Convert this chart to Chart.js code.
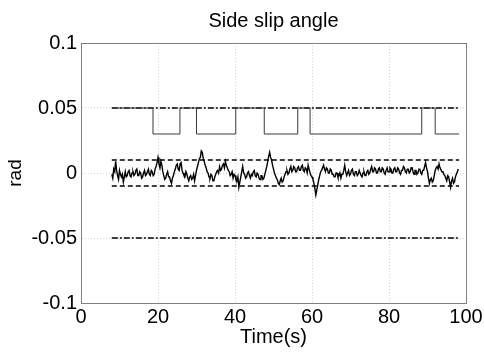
<!DOCTYPE html>
<html>
<head>
<meta charset="utf-8">
<script src="https://cdn.jsdelivr.net/npm/chart.js@4.4.1/dist/chart.umd.min.js"></script>
<style>
  html, body { margin: 0; padding: 0; background: #fff; }
  #wrap { width: 485px; height: 352px; }
</style>
</head>
<body>
<div id="wrap"><canvas id="slip"></canvas></div>
<script>
// side slip estimate, sampled every 0.25 s from t = 8 s (values in mrad)
const slipStart = 8;
const slipStep = 0.25;
const slipMrad = [
  -1, -4, 3, 1, 9, 2, -2, -5, 2, -1, -3, -1, -7, -3, 1, -3, -2, 1, 2, -2,
  -3, 0, 1, -2, -1, 2, 3, -2, -2, 1, 0, -4, -3, 0, 2, -2, -1, 1, 3, -1,
  -2, 2, 1, -2, -1, 3, 5, 8, 12, 7, 4, 9, 6, 1, -2, -5, -4, -1, 1, -3,
  -3, -6, -8, -4, -2, 1, 3, 6, 7, 3, 2, 7, 8, 2, 0, -2, -3, 1, -1, -4,
  -6, -3, -2, -5, -4, -1, -6, -2, 2, 5, 8, 11, 12, 17, 16, 11, 9, 6, 4, 1,
  0, -3, -4, -1, -2, -6, -6, -3, -1, 1, 2, 0, 5, 2, 3, 6, 7, 4, 9, 6,
  4, 2, 1, -2, -1, 1, -4, -1, -2, -5, -6, -3, -11, -7, -3, 1, 5, 0, -1, -4,
  -3, 0, 1, -2, -4, -1, -2, 1, 2, -2, -3, 0, -1, -4, -5, -2, -2, -5, -4, -1,
  2, 5, 9, 13, 16, 12, 10, 6, 3, 0, -2, -4, -5, -8, -9, -6, -4, -7, -6, -3,
  -1, 1, 2, -1, 0, 3, 5, 1, 2, 5, 4, 1, 1, 4, 5, 2, 2, 5, 6, 2,
  1, 4, 3, 0, 6, 3, 0, -2, -3, -5, -8, -12, -17, -13, -9, -5, -2, 1, 2, 4,
  6, 3, 1, 4, 3, 0, 0, 3, 2, -1, -1, -3, -3, 0, 0, -3, -2, 0, -4, -1,
  -1, 2, 6, 1, -2, 0, 2, -2, -1, 2, 3, -1, -2, 1, 1, -2, -1, 2, 0, -2,
  -3, 0, 1, -2, -2, 1, 2, -1, 0, 3, 5, 1, 1, 4, 3, 0, 0, 3, 4, 1,
  1, 4, 3, 0, -1, 2, 4, 1, 1, 4, 3, 0, 0, 3, 4, 1, 1, 4, 3, 0,
  -1, 2, 2, 5, 4, 1, 0, 3, 3, 0, 1, 4, 4, 1, -1, 2, 2, -1, 0, 3,
  3, 0, -1, 2, 2, 5, 8, 4, 1, -4, -8, -5, -4, -7, -6, -2, 2, 4, 5, 3,
  7, 4, 4, 1, 1, -1, -2, -4, -6, -2, -3, -7, -11, -6, -4, -8, -7, -3, -1, 1,
  3
];

// switching signal: level holds from each time until the next one
const switchTimes = [8, 18.7, 25.7, 30.0, 40.2, 47.6, 56.3, 59.5, 88.5, 92.0, 98.2];
const switchLevels = [0.05, 0.03, 0.05, 0.03, 0.05, 0.03, 0.05, 0.03, 0.05, 0.03, 0.03];

// bound lines
const boundSpan = [8, 98.2];
const outerBound = 0.05;
const innerBound = 0.01;

const xTicks = [0, 20, 40, 60, 80, 100];
const yTicks = [-0.1, -0.05, 0, 0.05, 0.1];

Chart.defaults.font.family = "'Liberation Sans', Arial, sans-serif";
Chart.defaults.color = "#000";

const slipPoints = slipMrad.map((v, i) => ({ x: slipStart + i * slipStep, y: v / 1000 }));
const switchPoints = switchTimes.map((t, i) => ({ x: t, y: switchLevels[i] }));
const hline = y => boundSpan.map(x => ({ x: x, y: y }));

const boxPlugin = {
  id: "box",
  afterDraw(chart) {
    const a = chart.chartArea;
    const c = chart.ctx;
    c.save();
    c.strokeStyle = "#808080";
    c.lineWidth = 1;
    c.strokeRect(a.left + 0.5, a.top + 0.5, a.right - a.left, a.bottom - a.top);
    c.restore();
  }
};

const lineSet = (data, extra) => Object.assign({
  data: data,
  borderColor: "#000",
  borderWidth: 1,
  pointRadius: 0,
  fill: false,
  tension: 0
}, extra);

const ctx = document.getElementById("slip");

const slipChart = new Chart(ctx, {
  type: "line",
  data: {
    datasets: [
      lineSet(slipPoints, { borderWidth: 1.4 }),
      // "before" keeps each level until the next switch time
      lineSet(switchPoints, { borderColor: "#3a3a3a", stepped: "before" }),
      lineSet(hline(outerBound), { borderDash: [6, 2, 2, 2], borderWidth: 1.3 }),
      lineSet(hline(-outerBound), { borderDash: [6, 2, 2, 2], borderWidth: 1.3 }),
      lineSet(hline(innerBound), { borderDash: [5, 3], borderWidth: 1.3 }),
      lineSet(hline(-innerBound), { borderDash: [5, 3], borderWidth: 1.3 })
    ]
  },
  options: {
    responsive: true,
    maintainAspectRatio: false,
    animation: false,
    layout: {
      padding: { left: 0, right: 19, top: 0, bottom: 0 }
    },
    plugins: {
      legend: { display: false },
      tooltip: { enabled: false },
      title: { display: false }
    },
    scales: {
      x: {
        type: "linear",
        min: 0,
        max: 100,
        afterBuildTicks: s => { s.ticks = xTicks.map(v => ({ value: v })); },
        afterFit: s => { s.height = 49; },
        ticks: {
          color: "#000",
          font: { size: 20 },
          padding: 2,
          maxRotation: 0
        },
        grid: {
          color: "#d2d2d2",
          drawTicks: false
        },
        border: { color: "#808080", dash: [1, 2] },
        title: {
          display: true,
          text: "Time(s)",
          color: "#000",
          font: { size: 20 },
          padding: { top: -4, bottom: 3 }
        }
      },
      // top axis only carries the plot title, centred over the plot area
      top: {
        type: "linear",
        position: "top",
        min: 0,
        max: 100,
        afterFit: s => { s.height = 43; },
        ticks: { display: false },
        grid: { display: false, drawTicks: false },
        border: { display: false },
        title: {
          display: true,
          text: "Side slip angle",
          color: "#000",
          font: { size: 20 },
          padding: { top: 9, bottom: 0 }
        }
      },
      y: {
        type: "linear",
        min: -0.1,
        max: 0.1,
        afterBuildTicks: s => { s.ticks = yTicks.map(v => ({ value: v })); },
        afterFit: s => { s.width = 81; },
        ticks: {
          color: "#000",
          font: { size: 20 },
          padding: 4,
          callback: v => String(+v.toFixed(2))
        },
        grid: {
          color: "#d2d2d2",
          drawTicks: false
        },
        border: { color: "#808080", dash: [1, 2] },
        title: {
          display: true,
          text: "rad",
          color: "#000",
          font: { size: 19 },
          padding: { top: 4, bottom: 0 }
        }
      }
    }
  },
  plugins: [boxPlugin]
});
</script>
</body>
</html>
